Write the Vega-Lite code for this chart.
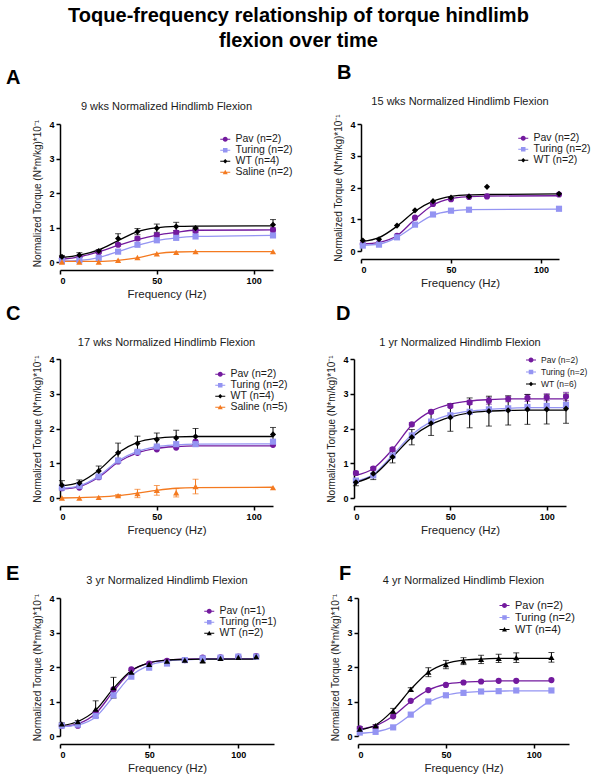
{
"$schema": "https://vega.github.io/schema/vega-lite/v6.json",
"padding": {"left": 5, "top": 5, "right": 5, "bottom": 5},
"title": {"text": ["Toque-frequency relationship of torque hindlimb", "flexion over time"], "fontSize": 20, "fontWeight": "bold", "font": "Liberation Sans", "color": "black", "anchor": "middle", "lineHeight": 25, "offset": 12},
"datasets": {
"A": [
{"f":1,"g":"Pav (n=2)","v":0.09,"fit":0.08},{"f":10,"g":"Pav (n=2)","v":0.15,"fit":0.15},{"f":20,"g":"Pav (n=2)","v":0.28,"fit":0.3,"e":0.03},{"f":30,"g":"Pav (n=2)","v":0.5,"fit":0.48,"e":0.04},{"f":40,"g":"Pav (n=2)","v":0.68,"fit":0.65,"e":0.05},{"f":50,"g":"Pav (n=2)","v":0.78,"fit":0.78,"e":0.05},{"f":60,"g":"Pav (n=2)","v":0.85,"fit":0.86,"e":0.06},{"f":70,"g":"Pav (n=2)","v":0.9,"fit":0.92,"e":0.05},{"f":110,"g":"Pav (n=2)","v":0.93,"fit":0.93,"e":0.06},
{"f":1,"g":"Turing (n=2)","v":0.03,"fit":0.03},{"f":10,"g":"Turing (n=2)","v":0.05,"fit":0.05},{"f":20,"g":"Turing (n=2)","v":0.12,"fit":0.13},{"f":30,"g":"Turing (n=2)","v":0.3,"fit":0.3},{"f":40,"g":"Turing (n=2)","v":0.5,"fit":0.48},{"f":50,"g":"Turing (n=2)","v":0.63,"fit":0.62},{"f":60,"g":"Turing (n=2)","v":0.7,"fit":0.7},{"f":70,"g":"Turing (n=2)","v":0.74,"fit":0.74},{"f":110,"g":"Turing (n=2)","v":0.77,"fit":0.77},
{"f":1,"g":"WT (n=4)","v":0.15,"fit":0.13,"e":0.04},{"f":10,"g":"WT (n=4)","v":0.2,"fit":0.2,"e":0.07},{"f":20,"g":"WT (n=4)","v":0.32,"fit":0.35,"e":0.04},{"f":30,"g":"WT (n=4)","v":0.68,"fit":0.62,"e":0.14},{"f":40,"g":"WT (n=4)","v":0.88,"fit":0.88,"e":0.09},{"f":50,"g":"WT (n=4)","v":0.98,"fit":0.99,"e":0.12},{"f":60,"g":"WT (n=4)","v":1.03,"fit":1.03,"e":0.12},{"f":70,"g":"WT (n=4)","v":0.98,"fit":1.04,"e":0.03},{"f":110,"g":"WT (n=4)","v":1.08,"fit":1.05,"e":0.15},
{"f":1,"g":"Saline (n=2)","v":0.0,"fit":0.02},{"f":10,"g":"Saline (n=2)","v":0.0,"fit":0.02},{"f":20,"g":"Saline (n=2)","v":0.0,"fit":0.02},{"f":30,"g":"Saline (n=2)","v":0.05,"fit":0.05},{"f":40,"g":"Saline (n=2)","v":0.13,"fit":0.12},{"f":50,"g":"Saline (n=2)","v":0.24,"fit":0.24},{"f":60,"g":"Saline (n=2)","v":0.28,"fit":0.29},{"f":70,"g":"Saline (n=2)","v":0.3,"fit":0.3},{"f":110,"g":"Saline (n=2)","v":0.3,"fit":0.3}
],
"B": [
{"f":1,"g":"Pav (n=2)","v":0.22,"fit":0.22},{"f":10,"g":"Pav (n=2)","v":0.25,"fit":0.27},{"f":20,"g":"Pav (n=2)","v":0.48,"fit":0.48},{"f":30,"g":"Pav (n=2)","v":1.05,"fit":1.0},{"f":40,"g":"Pav (n=2)","v":1.48,"fit":1.45},{"f":50,"g":"Pav (n=2)","v":1.63,"fit":1.65},{"f":60,"g":"Pav (n=2)","v":1.7,"fit":1.71},{"f":70,"g":"Pav (n=2)","v":1.72,"fit":1.73},{"f":110,"g":"Pav (n=2)","v":1.78,"fit":1.74},
{"f":1,"g":"Turing (n=2)","v":0.17,"fit":0.18},{"f":10,"g":"Turing (n=2)","v":0.2,"fit":0.22},{"f":20,"g":"Turing (n=2)","v":0.43,"fit":0.43},{"f":30,"g":"Turing (n=2)","v":0.83,"fit":0.8},{"f":40,"g":"Turing (n=2)","v":1.15,"fit":1.13},{"f":50,"g":"Turing (n=2)","v":1.27,"fit":1.26},{"f":60,"g":"Turing (n=2)","v":1.3,"fit":1.3},{"f":110,"g":"Turing (n=2)","v":1.33,"fit":1.32},
{"f":1,"g":"WT (n=2)","v":0.33,"fit":0.3},{"f":10,"g":"WT (n=2)","v":0.37,"fit":0.42},{"f":20,"g":"WT (n=2)","v":0.8,"fit":0.78},{"f":30,"g":"WT (n=2)","v":1.28,"fit":1.25},{"f":40,"g":"WT (n=2)","v":1.57,"fit":1.57},{"f":50,"g":"WT (n=2)","v":1.68,"fit":1.72},{"f":60,"g":"WT (n=2)","v":1.72,"fit":1.77},{"f":70,"g":"WT (n=2)","v":2.02,"fit":1.78},{"f":110,"g":"WT (n=2)","v":1.8,"fit":1.8}
],
"C": [
{"f":1,"g":"Pav (n=2)","v":0.28,"fit":0.26},{"f":10,"g":"Pav (n=2)","v":0.3,"fit":0.33},{"f":20,"g":"Pav (n=2)","v":0.6,"fit":0.6},{"f":30,"g":"Pav (n=2)","v":1.05,"fit":1.03},{"f":40,"g":"Pav (n=2)","v":1.3,"fit":1.3},{"f":50,"g":"Pav (n=2)","v":1.4,"fit":1.43},{"f":60,"g":"Pav (n=2)","v":1.45,"fit":1.48},{"f":70,"g":"Pav (n=2)","v":1.62,"fit":1.5},{"f":110,"g":"Pav (n=2)","v":1.53,"fit":1.5},
{"f":1,"g":"Turing (n=2)","v":0.3,"fit":0.28},{"f":10,"g":"Turing (n=2)","v":0.35,"fit":0.35},{"f":20,"g":"Turing (n=2)","v":0.62,"fit":0.63},{"f":30,"g":"Turing (n=2)","v":1.08,"fit":1.07},{"f":40,"g":"Turing (n=2)","v":1.33,"fit":1.34},{"f":50,"g":"Turing (n=2)","v":1.48,"fit":1.48},{"f":60,"g":"Turing (n=2)","v":1.55,"fit":1.53},{"f":70,"g":"Turing (n=2)","v":1.55,"fit":1.55},{"f":110,"g":"Turing (n=2)","v":1.62,"fit":1.56},
{"f":1,"g":"WT (n=4)","v":0.37,"fit":0.35,"e":0.13},{"f":10,"g":"WT (n=4)","v":0.43,"fit":0.45,"e":0.09},{"f":20,"g":"WT (n=4)","v":0.78,"fit":0.8,"e":0.14},{"f":30,"g":"WT (n=4)","v":1.3,"fit":1.3,"e":0.28},{"f":40,"g":"WT (n=4)","v":1.57,"fit":1.6,"e":0.21},{"f":50,"g":"WT (n=4)","v":1.68,"fit":1.72,"e":0.19},{"f":60,"g":"WT (n=4)","v":1.73,"fit":1.76,"e":0.22},{"f":70,"g":"WT (n=4)","v":1.77,"fit":1.77,"e":0.23},{"f":110,"g":"WT (n=4)","v":1.83,"fit":1.77,"e":0.2},
{"f":1,"g":"Saline (n=5)","v":0.0,"fit":0.0},{"f":10,"g":"Saline (n=5)","v":0.0,"fit":0.01},{"f":20,"g":"Saline (n=5)","v":0.02,"fit":0.03},{"f":30,"g":"Saline (n=5)","v":0.07,"fit":0.07,"e":0.03},{"f":40,"g":"Saline (n=5)","v":0.13,"fit":0.14,"e":0.12},{"f":50,"g":"Saline (n=5)","v":0.22,"fit":0.22,"e":0.14},{"f":60,"g":"Saline (n=5)","v":0.15,"fit":0.28,"e":0.12},{"f":70,"g":"Saline (n=5)","v":0.33,"fit":0.3,"e":0.21},{"f":110,"g":"Saline (n=5)","v":0.3,"fit":0.31}
],
"D": [
{"f":1,"g":"Pav (n=2)","v":0.72,"fit":0.65,"e":0.05},{"f":10,"g":"Pav (n=2)","v":0.85,"fit":0.85,"e":0.04},{"f":20,"g":"Pav (n=2)","v":1.4,"fit":1.4,"e":0.04},{"f":30,"g":"Pav (n=2)","v":2.12,"fit":2.1,"e":0.05},{"f":40,"g":"Pav (n=2)","v":2.48,"fit":2.5,"e":0.04},{"f":50,"g":"Pav (n=2)","v":2.65,"fit":2.7,"e":0.05},{"f":60,"g":"Pav (n=2)","v":2.75,"fit":2.79,"e":0.06},{"f":70,"g":"Pav (n=2)","v":2.8,"fit":2.83,"e":0.1},{"f":80,"g":"Pav (n=2)","v":2.85,"fit":2.85,"e":0.08},{"f":90,"g":"Pav (n=2)","v":2.88,"fit":2.85,"e":0.1},{"f":100,"g":"Pav (n=2)","v":2.9,"fit":2.85,"e":0.1},{"f":110,"g":"Pav (n=2)","v":2.92,"fit":2.85,"e":0.12},
{"f":1,"g":"Turing (n=2)","v":0.5,"fit":0.48},{"f":10,"g":"Turing (n=2)","v":0.65,"fit":0.68},{"f":20,"g":"Turing (n=2)","v":1.22,"fit":1.23},{"f":30,"g":"Turing (n=2)","v":1.8,"fit":1.82},{"f":40,"g":"Turing (n=2)","v":2.2,"fit":2.2},{"f":50,"g":"Turing (n=2)","v":2.38,"fit":2.4},{"f":60,"g":"Turing (n=2)","v":2.48,"fit":2.5},{"f":70,"g":"Turing (n=2)","v":2.55,"fit":2.55},{"f":80,"g":"Turing (n=2)","v":2.58,"fit":2.58},{"f":90,"g":"Turing (n=2)","v":2.62,"fit":2.6},{"f":100,"g":"Turing (n=2)","v":2.65,"fit":2.6},{"f":110,"g":"Turing (n=2)","v":2.68,"fit":2.6},
{"f":1,"g":"WT (n=6)","v":0.45,"fit":0.45,"e":0.1},{"f":10,"g":"WT (n=6)","v":0.7,"fit":0.65,"e":0.17},{"f":20,"g":"WT (n=6)","v":1.18,"fit":1.18,"e":0.17},{"f":30,"g":"WT (n=6)","v":1.75,"fit":1.75,"e":0.22},{"f":40,"g":"WT (n=6)","v":2.15,"fit":2.12,"e":0.35},{"f":50,"g":"WT (n=6)","v":2.32,"fit":2.33,"e":0.4},{"f":60,"g":"WT (n=6)","v":2.45,"fit":2.45,"e":0.43},{"f":70,"g":"WT (n=6)","v":2.5,"fit":2.5,"e":0.43},{"f":80,"g":"WT (n=6)","v":2.52,"fit":2.52,"e":0.42},{"f":90,"g":"WT (n=6)","v":2.55,"fit":2.53,"e":0.43},{"f":100,"g":"WT (n=6)","v":2.55,"fit":2.53,"e":0.42},{"f":110,"g":"WT (n=6)","v":2.57,"fit":2.53,"e":0.42}
],
"E": [
{"f":1,"g":"Pav (n=1)","v":0.3,"fit":0.27},{"f":10,"g":"Pav (n=1)","v":0.3,"fit":0.35},{"f":20,"g":"Pav (n=1)","v":0.68,"fit":0.65},{"f":30,"g":"Pav (n=1)","v":1.35,"fit":1.3},{"f":40,"g":"Pav (n=1)","v":1.93,"fit":1.88},{"f":50,"g":"Pav (n=1)","v":2.1,"fit":2.12},{"f":60,"g":"Pav (n=1)","v":2.18,"fit":2.2},{"f":70,"g":"Pav (n=1)","v":2.2,"fit":2.23},{"f":80,"g":"Pav (n=1)","v":2.27,"fit":2.24},{"f":90,"g":"Pav (n=1)","v":2.28,"fit":2.24},{"f":100,"g":"Pav (n=1)","v":2.3,"fit":2.24},{"f":110,"g":"Pav (n=1)","v":2.32,"fit":2.24},
{"f":1,"g":"Turing (n=1)","v":0.3,"fit":0.27},{"f":10,"g":"Turing (n=1)","v":0.33,"fit":0.32},{"f":20,"g":"Turing (n=1)","v":0.58,"fit":0.55},{"f":30,"g":"Turing (n=1)","v":1.18,"fit":1.15},{"f":40,"g":"Turing (n=1)","v":1.72,"fit":1.75},{"f":50,"g":"Turing (n=1)","v":1.98,"fit":2.05},{"f":60,"g":"Turing (n=1)","v":2.1,"fit":2.17},{"f":70,"g":"Turing (n=1)","v":2.2,"fit":2.21},{"f":80,"g":"Turing (n=1)","v":2.25,"fit":2.23},{"f":90,"g":"Turing (n=1)","v":2.27,"fit":2.23},{"f":100,"g":"Turing (n=1)","v":2.3,"fit":2.23},{"f":110,"g":"Turing (n=1)","v":2.3,"fit":2.23},
{"f":1,"g":"WT (n=2)","v":0.35,"fit":0.3,"e":0.03},{"f":10,"g":"WT (n=2)","v":0.42,"fit":0.42,"e":0.03},{"f":20,"g":"WT (n=2)","v":0.78,"fit":0.75,"e":0.24},{"f":30,"g":"WT (n=2)","v":1.4,"fit":1.38,"e":0.3},{"f":40,"g":"WT (n=2)","v":1.85,"fit":1.9,"e":0.05},{"f":50,"g":"WT (n=2)","v":2.08,"fit":2.12,"e":0.03},{"f":60,"g":"WT (n=2)","v":2.17,"fit":2.2,"e":0.02},{"f":70,"g":"WT (n=2)","v":2.2,"fit":2.22,"e":0.02},{"f":80,"g":"WT (n=2)","v":2.18,"fit":2.23,"e":0.05},{"f":90,"g":"WT (n=2)","v":2.25,"fit":2.23,"e":0.02},{"f":100,"g":"WT (n=2)","v":2.28,"fit":2.23,"e":0.02},{"f":110,"g":"WT (n=2)","v":2.3,"fit":2.23,"e":0.02}
],
"F": [
{"f":1,"g":"Pav (n=2)","v":0.22,"fit":0.2},{"f":10,"g":"Pav (n=2)","v":0.25,"fit":0.3},{"f":20,"g":"Pav (n=2)","v":0.57,"fit":0.58},{"f":30,"g":"Pav (n=2)","v":1.02,"fit":1.0},{"f":40,"g":"Pav (n=2)","v":1.33,"fit":1.33},{"f":50,"g":"Pav (n=2)","v":1.48,"fit":1.5},{"f":60,"g":"Pav (n=2)","v":1.55,"fit":1.56},{"f":70,"g":"Pav (n=2)","v":1.58,"fit":1.58},{"f":80,"g":"Pav (n=2)","v":1.6,"fit":1.6},{"f":90,"g":"Pav (n=2)","v":1.6,"fit":1.6},{"f":110,"g":"Pav (n=2)","v":1.62,"fit":1.6},
{"f":1,"g":"Turing (n=2)","v":0.1,"fit":0.08},{"f":10,"g":"Turing (n=2)","v":0.12,"fit":0.12},{"f":20,"g":"Turing (n=2)","v":0.25,"fit":0.27},{"f":30,"g":"Turing (n=2)","v":0.62,"fit":0.62},{"f":40,"g":"Turing (n=2)","v":1.0,"fit":0.98},{"f":50,"g":"Turing (n=2)","v":1.18,"fit":1.18},{"f":60,"g":"Turing (n=2)","v":1.25,"fit":1.26},{"f":70,"g":"Turing (n=2)","v":1.29,"fit":1.29},{"f":80,"g":"Turing (n=2)","v":1.3,"fit":1.3},{"f":90,"g":"Turing (n=2)","v":1.32,"fit":1.31},{"f":110,"g":"Turing (n=2)","v":1.32,"fit":1.31},
{"f":1,"g":"WT (n=4)","v":0.2,"fit":0.18,"e":0.07},{"f":10,"g":"WT (n=4)","v":0.3,"fit":0.32,"e":0.03},{"f":20,"g":"WT (n=4)","v":0.72,"fit":0.75,"e":0.08},{"f":30,"g":"WT (n=4)","v":1.35,"fit":1.35,"e":0.05},{"f":40,"g":"WT (n=4)","v":1.85,"fit":1.85,"e":0.13},{"f":50,"g":"WT (n=4)","v":2.07,"fit":2.1,"e":0.12},{"f":60,"g":"WT (n=4)","v":2.17,"fit":2.2,"e":0.1},{"f":70,"g":"WT (n=4)","v":2.22,"fit":2.23,"e":0.12},{"f":80,"g":"WT (n=4)","v":2.25,"fit":2.25,"e":0.12},{"f":90,"g":"WT (n=4)","v":2.27,"fit":2.25,"e":0.14},{"f":110,"g":"WT (n=4)","v":2.28,"fit":2.25,"e":0.14}
]
},
"spacing": 3,
"vconcat": [
{"hconcat": [
{"title": {"text": "A", "dx": -27, "anchor": "start", "fontSize": 20, "fontWeight": "bold", "color": "black", "offset": 13}, "vconcat": [{
 "data": {"name": "A"}, "width": 213, "height": 138,
 "title": {"text": "9 wks Normalized Hindlimb  Flexion"},
 "encoding": {"x": {"field": "f", "type": "quantitative", "scale": {"domain": [0, 110], "nice": false}, "axis": {"values": [0, 50, 100], "title": "Frequency (Hz)", "titleFontWeight": "normal"}},
  "y": {"field": "v", "type": "quantitative", "scale": {"domain": [0, 4], "nice": false}, "title": "Normalized Torque (N*m/kg)*10⁻¹"}},
 "layer": [
  {"mark": {"type": "line", "interpolate": "monotone", "strokeWidth": 1.3}, "encoding": {"y": {"field": "fit", "type": "quantitative", "title": "Normalized Torque (N*m/kg)*10⁻¹"}, "color": {"field": "g", "type": "nominal", "scale": {"domain": ["Pav (n=2)", "Turing (n=2)", "WT (n=4)", "Saline (n=2)"], "range": ["#731A9E", "#9494F2", "#000000", "#F47A20"]}, "legend": null}}},
  {"transform": [{"filter": "datum.e > 0"}], "mark": {"type": "errorbar", "ticks": {"size": 6}, "thickness": 1}, "encoding": {"yError": {"field": "e"}, "color": {"field": "g", "type": "nominal", "scale": {"domain": ["Pav (n=2)", "Turing (n=2)", "WT (n=4)", "Saline (n=2)"], "range": ["#731A9E", "#9494F2", "#000000", "#F47A20"]}, "legend": null}}},
  {"mark": {"type": "point", "filled": true, "opacity": 1, "size": 38}, "encoding": {"color": {"field": "g", "type": "nominal", "scale": {"domain": ["Pav (n=2)", "Turing (n=2)", "WT (n=4)", "Saline (n=2)"], "range": ["#731A9E", "#9494F2", "#000000", "#F47A20"]}, "legend": null}, "shape": {"field": "g", "type": "nominal", "scale": {"domain": ["Pav (n=2)", "Turing (n=2)", "WT (n=4)", "Saline (n=2)"], "range": ["circle", "square", "diamond", "triangle-up"]}, "legend": null}}},
  {"mark": {"type": "point", "filled": true, "opacity": 0, "size": 36}, "encoding": {"color": {"field": "g", "type": "nominal", "scale": {"domain": ["Pav (n=2)", "Turing (n=2)", "WT (n=4)", "Saline (n=2)"], "range": ["#731A9E", "#9494F2", "#000000", "#F47A20"]}, "legend": {"legendX": 160, "legendY": 10}}, "shape": {"field": "g", "type": "nominal", "scale": {"domain": ["Pav (n=2)", "Turing (n=2)", "WT (n=4)", "Saline (n=2)"], "range": ["M-1,-0.1H1V0.1H-1Z M-0.5,0A0.5,0.5,0,1,1,0.5,0A0.5,0.5,0,1,1,-0.5,0Z", "M-1,-0.1H1V0.1H-1Z M-0.45,-0.45H0.45V0.45H-0.45Z", "M-1,-0.1H1V0.1H-1Z M0,-0.45L0.45,0L0,0.45L-0.45,0Z", "M-1,-0.1H1V0.1H-1Z M0,-0.5L0.5,0.4L-0.5,0.4Z"]}, "legend": {"legendX": 160, "legendY": 10}}}}
 ],
 "resolve": {"scale": {"color": "independent", "shape": "independent"}}
}]},
{"title": {"text": "B", "dx": 3, "anchor": "start", "fontSize": 20, "fontWeight": "bold", "color": "black", "offset": 13}, "vconcat": [{
 "data": {"name": "B"}, "width": 198, "height": 127,
 "title": {"text": "15 wks Normalized Hindlimb  Flexion"},
 "encoding": {"x": {"field": "f", "type": "quantitative", "scale": {"domain": [0, 110], "nice": false}, "axis": {"values": [0, 50, 100], "title": "Frequency (Hz)", "titleFontWeight": "normal"}},
  "y": {"field": "v", "type": "quantitative", "scale": {"domain": [0, 4], "nice": false}, "title": "Normalized Torque (N*m/kg)*10⁻¹"}},
 "layer": [
  {"mark": {"type": "line", "interpolate": "monotone", "strokeWidth": 1.3}, "encoding": {"y": {"field": "fit", "type": "quantitative", "title": "Normalized Torque (N*m/kg)*10⁻¹"}, "color": {"field": "g", "type": "nominal", "scale": {"domain": ["Pav (n=2)", "Turing (n=2)", "WT (n=2)"], "range": ["#731A9E", "#9494F2", "#000000"]}, "legend": null}}},
  {"mark": {"type": "point", "filled": true, "opacity": 1, "size": 38}, "encoding": {"color": {"field": "g", "type": "nominal", "scale": {"domain": ["Pav (n=2)", "Turing (n=2)", "WT (n=2)"], "range": ["#731A9E", "#9494F2", "#000000"]}, "legend": null}, "shape": {"field": "g", "type": "nominal", "scale": {"domain": ["Pav (n=2)", "Turing (n=2)", "WT (n=2)"], "range": ["circle", "square", "diamond"]}, "legend": null}}},
  {"mark": {"type": "point", "filled": true, "opacity": 0, "size": 36}, "encoding": {"color": {"field": "g", "type": "nominal", "scale": {"domain": ["Pav (n=2)", "Turing (n=2)", "WT (n=2)"], "range": ["#731A9E", "#9494F2", "#000000"]}, "legend": {"legendX": 157, "legendY": 9}}, "shape": {"field": "g", "type": "nominal", "scale": {"domain": ["Pav (n=2)", "Turing (n=2)", "WT (n=2)"], "range": ["M-1,-0.1H1V0.1H-1Z M-0.5,0A0.5,0.5,0,1,1,0.5,0A0.5,0.5,0,1,1,-0.5,0Z", "M-1,-0.1H1V0.1H-1Z M-0.45,-0.45H0.45V0.45H-0.45Z", "M-1,-0.1H1V0.1H-1Z M0,-0.45L0.45,0L0,0.45L-0.45,0Z"]}, "legend": {"legendX": 157, "legendY": 9}}}}
 ],
 "resolve": {"scale": {"color": "independent", "shape": "independent"}}
}]}
], "spacing": 40},
{"hconcat": [
{"title": {"text": "C", "dx": -27, "anchor": "start", "fontSize": 20, "fontWeight": "bold", "color": "black", "offset": 13}, "vconcat": [{
 "data": {"name": "C"}, "width": 213, "height": 139,
 "title": {"text": "17 wks Normalized Hindlimb  Flexion"},
 "encoding": {"x": {"field": "f", "type": "quantitative", "scale": {"domain": [0, 110], "nice": false}, "axis": {"values": [0, 50, 100], "title": "Frequency (Hz)", "titleFontWeight": "normal"}},
  "y": {"field": "v", "type": "quantitative", "scale": {"domain": [0, 4], "nice": false}, "title": "Normalized Torque (N*m/kg)*10⁻¹"}},
 "layer": [
  {"mark": {"type": "line", "interpolate": "monotone", "strokeWidth": 1.3}, "encoding": {"y": {"field": "fit", "type": "quantitative", "title": "Normalized Torque (N*m/kg)*10⁻¹"}, "color": {"field": "g", "type": "nominal", "scale": {"domain": ["Pav (n=2)", "Turing (n=2)", "WT (n=4)", "Saline (n=5)"], "range": ["#731A9E", "#9494F2", "#000000", "#F47A20"]}, "legend": null}}},
  {"transform": [{"filter": "datum.e > 0"}], "mark": {"type": "errorbar", "ticks": {"size": 6}, "thickness": 1}, "encoding": {"yError": {"field": "e"}, "color": {"field": "g", "type": "nominal", "scale": {"domain": ["Pav (n=2)", "Turing (n=2)", "WT (n=4)", "Saline (n=5)"], "range": ["#731A9E", "#9494F2", "#000000", "#F47A20"]}, "legend": null}}},
  {"mark": {"type": "point", "filled": true, "opacity": 1, "size": 38}, "encoding": {"color": {"field": "g", "type": "nominal", "scale": {"domain": ["Pav (n=2)", "Turing (n=2)", "WT (n=4)", "Saline (n=5)"], "range": ["#731A9E", "#9494F2", "#000000", "#F47A20"]}, "legend": null}, "shape": {"field": "g", "type": "nominal", "scale": {"domain": ["Pav (n=2)", "Turing (n=2)", "WT (n=4)", "Saline (n=5)"], "range": ["circle", "square", "diamond", "triangle-up"]}, "legend": null}}},
  {"mark": {"type": "point", "filled": true, "opacity": 0, "size": 36}, "encoding": {"color": {"field": "g", "type": "nominal", "scale": {"domain": ["Pav (n=2)", "Turing (n=2)", "WT (n=4)", "Saline (n=5)"], "range": ["#731A9E", "#9494F2", "#000000", "#F47A20"]}, "legend": {"legendX": 155, "legendY": 10}}, "shape": {"field": "g", "type": "nominal", "scale": {"domain": ["Pav (n=2)", "Turing (n=2)", "WT (n=4)", "Saline (n=5)"], "range": ["M-1,-0.1H1V0.1H-1Z M-0.5,0A0.5,0.5,0,1,1,0.5,0A0.5,0.5,0,1,1,-0.5,0Z", "M-1,-0.1H1V0.1H-1Z M-0.45,-0.45H0.45V0.45H-0.45Z", "M-1,-0.1H1V0.1H-1Z M0,-0.45L0.45,0L0,0.45L-0.45,0Z", "M-1,-0.1H1V0.1H-1Z M0,-0.5L0.5,0.4L-0.5,0.4Z"]}, "legend": {"legendX": 155, "legendY": 10}}}}
 ],
 "resolve": {"scale": {"color": "independent", "shape": "independent"}}
}]},
{"title": {"text": "D", "dx": 9, "anchor": "start", "fontSize": 20, "fontWeight": "bold", "color": "black", "offset": 13}, "vconcat": [{
 "data": {"name": "D"}, "width": 212, "height": 139,
 "title": {"text": "1 yr Normalized Hindlimb Flexion"},
 "encoding": {"x": {"field": "f", "type": "quantitative", "scale": {"domain": [0, 110], "nice": false}, "axis": {"values": [0, 50, 100], "title": "Frequency (Hz)", "titleFontWeight": "normal"}},
  "y": {"field": "v", "type": "quantitative", "scale": {"domain": [0, 4], "nice": false}, "title": "Normalized Torque (N*m/kg)*10⁻¹"}},
 "layer": [
  {"mark": {"type": "line", "interpolate": "monotone", "strokeWidth": 1.3}, "encoding": {"y": {"field": "fit", "type": "quantitative", "title": "Normalized Torque (N*m/kg)*10⁻¹"}, "color": {"field": "g", "type": "nominal", "scale": {"domain": ["Pav (n=2)", "Turing (n=2)", "WT (n=6)"], "range": ["#731A9E", "#9494F2", "#000000"]}, "legend": null}}},
  {"transform": [{"filter": "datum.e > 0"}], "mark": {"type": "errorbar", "ticks": {"size": 6}, "thickness": 1}, "encoding": {"yError": {"field": "e"}, "color": {"field": "g", "type": "nominal", "scale": {"domain": ["Pav (n=2)", "Turing (n=2)", "WT (n=6)"], "range": ["#731A9E", "#9494F2", "#000000"]}, "legend": null}}},
  {"mark": {"type": "point", "filled": true, "opacity": 1, "size": 38}, "encoding": {"color": {"field": "g", "type": "nominal", "scale": {"domain": ["Pav (n=2)", "Turing (n=2)", "WT (n=6)"], "range": ["#731A9E", "#9494F2", "#000000"]}, "legend": null}, "shape": {"field": "g", "type": "nominal", "scale": {"domain": ["Pav (n=2)", "Turing (n=2)", "WT (n=6)"], "range": ["circle", "square", "diamond"]}, "legend": null}}},
  {"mark": {"type": "point", "filled": true, "opacity": 0, "size": 36}, "encoding": {"color": {"field": "g", "type": "nominal", "scale": {"domain": ["Pav (n=2)", "Turing (n=2)", "WT (n=6)"], "range": ["#731A9E", "#9494F2", "#000000"]}, "legend": {"legendX": 172, "legendY": -4, "labelFontSize": 8.5, "rowPadding": 2}}, "shape": {"field": "g", "type": "nominal", "scale": {"domain": ["Pav (n=2)", "Turing (n=2)", "WT (n=6)"], "range": ["M-1,-0.1H1V0.1H-1Z M-0.5,0A0.5,0.5,0,1,1,0.5,0A0.5,0.5,0,1,1,-0.5,0Z", "M-1,-0.1H1V0.1H-1Z M-0.45,-0.45H0.45V0.45H-0.45Z", "M-1,-0.1H1V0.1H-1Z M0,-0.45L0.45,0L0,0.45L-0.45,0Z"]}, "legend": {"legendX": 172, "legendY": -4, "labelFontSize": 8.5, "rowPadding": 2}}}}
 ],
 "resolve": {"scale": {"color": "independent", "shape": "independent"}}
}]}
], "spacing": 38},
{"hconcat": [
{"title": {"text": ["", "E"], "lineHeight": 25, "dx": -27, "dy": 9, "anchor": "start", "fontSize": 20, "fontWeight": "bold", "color": "black", "offset": 0}, "vconcat": [{
 "data": {"name": "E"}, "width": 214, "height": 138,
 "title": {"text": "3 yr Normalized Hindlimb Flexion"},
 "encoding": {"x": {"field": "f", "type": "quantitative", "scale": {"domain": [0, 120], "nice": false}, "axis": {"values": [0, 50, 100], "title": "Frequency (Hz)", "titleFontWeight": "normal"}},
  "y": {"field": "v", "type": "quantitative", "scale": {"domain": [0, 4], "nice": false}, "title": "Normalized Torque (N*m/kg)*10⁻¹"}},
 "layer": [
  {"mark": {"type": "line", "interpolate": "monotone", "strokeWidth": 1.3}, "encoding": {"y": {"field": "fit", "type": "quantitative", "title": "Normalized Torque (N*m/kg)*10⁻¹"}, "color": {"field": "g", "type": "nominal", "scale": {"domain": ["Pav (n=1)", "Turing (n=1)", "WT (n=2)"], "range": ["#731A9E", "#9494F2", "#000000"]}, "legend": null}}},
  {"transform": [{"filter": "datum.e > 0"}], "mark": {"type": "errorbar", "ticks": {"size": 6}, "thickness": 1}, "encoding": {"yError": {"field": "e"}, "color": {"field": "g", "type": "nominal", "scale": {"domain": ["Pav (n=1)", "Turing (n=1)", "WT (n=2)"], "range": ["#731A9E", "#9494F2", "#000000"]}, "legend": null}}},
  {"mark": {"type": "point", "filled": true, "opacity": 1, "size": 38}, "encoding": {"color": {"field": "g", "type": "nominal", "scale": {"domain": ["Pav (n=1)", "Turing (n=1)", "WT (n=2)"], "range": ["#731A9E", "#9494F2", "#000000"]}, "legend": null}, "shape": {"field": "g", "type": "nominal", "scale": {"domain": ["Pav (n=1)", "Turing (n=1)", "WT (n=2)"], "range": ["circle", "square", "triangle-up"]}, "legend": null}}},
  {"mark": {"type": "point", "filled": true, "opacity": 0, "size": 36}, "encoding": {"color": {"field": "g", "type": "nominal", "scale": {"domain": ["Pav (n=1)", "Turing (n=1)", "WT (n=2)"], "range": ["#731A9E", "#9494F2", "#000000"]}, "legend": {"legendX": 144, "legendY": 8}}, "shape": {"field": "g", "type": "nominal", "scale": {"domain": ["Pav (n=1)", "Turing (n=1)", "WT (n=2)"], "range": ["M-1,-0.1H1V0.1H-1Z M-0.5,0A0.5,0.5,0,1,1,0.5,0A0.5,0.5,0,1,1,-0.5,0Z", "M-1,-0.1H1V0.1H-1Z M-0.45,-0.45H0.45V0.45H-0.45Z", "M-1,-0.1H1V0.1H-1Z M0,-0.5L0.5,0.4L-0.5,0.4Z"]}, "legend": {"legendX": 144, "legendY": 8}}}}
 ],
 "resolve": {"scale": {"color": "independent", "shape": "independent"}}
}]},
{"title": {"text": ["", "F"], "lineHeight": 25, "dx": 8, "dy": 9, "anchor": "start", "fontSize": 20, "fontWeight": "bold", "color": "black", "offset": 0}, "vconcat": [{
 "data": {"name": "F"}, "width": 211, "height": 138,
 "title": {"text": "4 yr Normalized Hindlimb Flexion"},
 "encoding": {"x": {"field": "f", "type": "quantitative", "scale": {"domain": [0, 120], "nice": false}, "axis": {"values": [0, 50, 100], "title": "Frequency (Hz)", "titleFontWeight": "normal"}},
  "y": {"field": "v", "type": "quantitative", "scale": {"domain": [0, 4], "nice": false}, "title": "Normalized Torque (N*m/kg)*10⁻¹"}},
 "layer": [
  {"mark": {"type": "line", "interpolate": "monotone", "strokeWidth": 1.3}, "encoding": {"y": {"field": "fit", "type": "quantitative", "title": "Normalized Torque (N*m/kg)*10⁻¹"}, "color": {"field": "g", "type": "nominal", "scale": {"domain": ["Pav (n=2)", "Turing (n=2)", "WT (n=4)"], "range": ["#731A9E", "#9494F2", "#000000"]}, "legend": null}}},
  {"transform": [{"filter": "datum.e > 0"}], "mark": {"type": "errorbar", "ticks": {"size": 6}, "thickness": 1}, "encoding": {"yError": {"field": "e"}, "color": {"field": "g", "type": "nominal", "scale": {"domain": ["Pav (n=2)", "Turing (n=2)", "WT (n=4)"], "range": ["#731A9E", "#9494F2", "#000000"]}, "legend": null}}},
  {"mark": {"type": "point", "filled": true, "opacity": 1, "size": 38}, "encoding": {"color": {"field": "g", "type": "nominal", "scale": {"domain": ["Pav (n=2)", "Turing (n=2)", "WT (n=4)"], "range": ["#731A9E", "#9494F2", "#000000"]}, "legend": null}, "shape": {"field": "g", "type": "nominal", "scale": {"domain": ["Pav (n=2)", "Turing (n=2)", "WT (n=4)"], "range": ["circle", "square", "triangle-up"]}, "legend": null}}},
  {"mark": {"type": "point", "filled": true, "opacity": 0, "size": 36}, "encoding": {"color": {"field": "g", "type": "nominal", "scale": {"domain": ["Pav (n=2)", "Turing (n=2)", "WT (n=4)"], "range": ["#731A9E", "#9494F2", "#000000"]}, "legend": {"legendX": 141, "legendY": 2, "labelFontSize": 11}}, "shape": {"field": "g", "type": "nominal", "scale": {"domain": ["Pav (n=2)", "Turing (n=2)", "WT (n=4)"], "range": ["M-1,-0.1H1V0.1H-1Z M-0.5,0A0.5,0.5,0,1,1,0.5,0A0.5,0.5,0,1,1,-0.5,0Z", "M-1,-0.1H1V0.1H-1Z M-0.45,-0.45H0.45V0.45H-0.45Z", "M-1,-0.1H1V0.1H-1Z M0,-0.5L0.5,0.4L-0.5,0.4Z"]}, "legend": {"legendX": 141, "legendY": 2, "labelFontSize": 11}}}}
 ],
 "resolve": {"scale": {"color": "independent", "shape": "independent"}}
}]}
], "spacing": 53}
],
"config": {
 "font": "Liberation Sans",
 "view": {"stroke": null},
 "title": {"fontSize": 11, "fontWeight": "normal", "color": "#1a1a1a", "anchor": "middle", "offset": 7},
 "axis": {"domainColor": "black", "tickColor": "black", "labelColor": "black", "labelFontWeight": "bold", "labelFontSize": 9, "titleFontWeight": "normal", "titleColor": "#222", "grid": false, "tickSize": 4, "domainWidth": 1.5, "tickWidth": 1.5, "labelPadding": 2},
 "axisX": {"offset": 8, "titleFontSize": 11.5, "titleFontWeight": "normal", "titlePadding": 3},
 "axisY": {"titlePadding": 6, "titleFontSize": 10, "titleFontWeight": "normal"},
 "legend": {"orient": "none", "labelFontSize": 10.5, "labelColor": "#1a1a1a", "symbolOpacity": 1, "symbolStrokeWidth": 0, "labelOffset": 5, "rowPadding": 0, "padding": 0, "title": null}
}
}
